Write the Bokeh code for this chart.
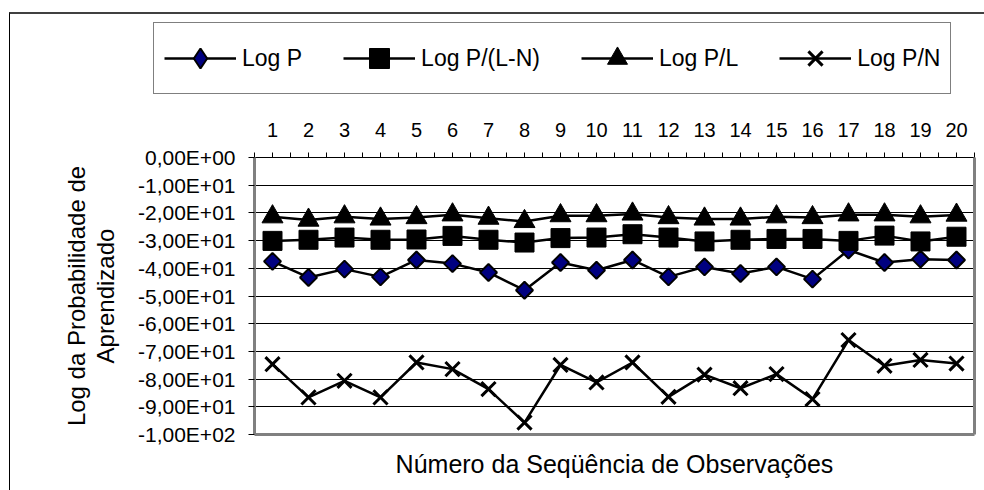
import numpy as np
from bokeh.plotting import figure
from bokeh.layouts import column
from bokeh.models import Range1d, FixedTicker, LinearAxis, Legend, LegendItem
from bokeh.embed import file_html
from bokeh.resources import INLINE

# ---- data ----
observacoes = list(range(1, 21))
x_tick_labels = [str(i) for i in observacoes]
log_p = [-37.5, -43.3, -40.3, -43.1, -37.0, -38.3, -41.5, -47.9, -37.9, -40.7,
         -37.0, -43.1, -39.5, -41.9, -39.5, -43.9, -33.4, -37.9, -36.7, -37.0]
log_p_lmn = [-30.1, -29.7, -28.9, -29.7, -29.6, -28.3, -29.7, -30.7, -29.1, -28.9,
             -27.7, -28.9, -30.3, -29.7, -29.4, -29.4, -30.1, -28.2, -30.3, -28.6]
log_p_l = [-21.4, -22.6, -21.4, -22.2, -21.7, -20.7, -21.9, -23.1, -21.0, -21.0,
           -20.4, -21.7, -22.2, -22.2, -21.4, -21.7, -20.7, -20.7, -21.4, -20.8]
log_p_n = [-74.6, -86.6, -80.6, -86.6, -74.0, -76.4, -83.6, -95.7, -74.9, -81.2,
           -74.0, -86.4, -78.4, -83.3, -78.2, -87.2, -65.9, -75.2, -73.1, -74.4]
y_ticks = [0, -10, -20, -30, -40, -50, -60, -70, -80, -90, -100]
y_tick_labels = ["0,00E+00", "-1,00E+01", "-2,00E+01", "-3,00E+01", "-4,00E+01",
                 "-5,00E+01", "-6,00E+01", "-7,00E+01", "-8,00E+01", "-9,00E+01",
                 "-1,00E+02"]
series_names = ["Log P", "Log P/(L-N)", "Log P/L", "Log P/N"]
series_values = [log_p, log_p_lmn, log_p_l, log_p_n]

FONT = "Liberation Sans"
LW = 2.5
PLOT_MARKERS = [dict(marker="square", angle=np.pi / 4, size=12, fill_color="#000080",
                     line_color="black", line_width=2),
                dict(marker="square", size=19, fill_color="black", line_color="black", line_width=1),
                dict(marker="triangle", size=21, fill_color="black", line_color="black", line_width=1),
                dict(marker="x", size=20, line_color="black", line_width=3)]
LEGEND_MARKERS = [dict(marker="diamond", fill_color="#000080", line_color="black", line_width=2),
                  dict(marker="square", fill_color="black", line_color="black", line_width=1),
                  dict(marker="triangle", fill_color="black", line_color="black", line_width=1),
                  dict(marker="x", line_color="black", line_width=3)]


def add_series(fig, markers):
    pairs = []
    for vals, mk in zip(series_values, markers):
        ln = fig.line(observacoes, vals, line_color="black", line_width=LW)
        sc = fig.scatter(observacoes, vals, **mk)
        pairs.append((ln, sc))
    return pairs


# ---------- legend strip (top) ----------
top = figure(frame_width=974, frame_height=90, min_border=0,
             x_range=Range1d(0.5, 20.5), y_range=Range1d(0, 1),
             x_axis_location=None, y_axis_location=None,
             output_backend="svg", toolbar_location=None)
top.margin = (12, 0, 0, 9)
top.styles = {"border-top": "2px solid #404040", "border-left": "1px solid #000000"}
top.outline_line_color = None
top.grid.visible = False
top.border_fill_color = "white"
top.background_fill_color = "white"
pairs_top = add_series(top, LEGEND_MARKERS)   # data lie outside this strip's view; legend glyphs only

legend = Legend(items=[LegendItem(label=n, renderers=list(pr))
                       for n, pr in zip(series_names, pairs_top)],
                orientation="horizontal", location=(143, 12))
legend.border_line_color = "black"
legend.border_line_width = 1
legend.background_fill_color = "white"
legend.background_fill_alpha = 1
legend.label_text_font = FONT
legend.label_text_font_size = "23px"
legend.label_text_color = "black"
legend.glyph_width = 72
legend.glyph_height = 50
legend.label_standoff = 6
legend.spacing = 41
legend.padding = 10
legend.margin = 0
top.add_layout(legend, "center")

# ---------- main chart ----------
p = figure(frame_width=719, frame_height=277,
           x_range=Range1d(0.5, 20.5), y_range=Range1d(-100, 0),
           x_axis_location="above",
           min_border_left=244, min_border_right=11,
           min_border_top=53, min_border_bottom=56,
           output_backend="svg", toolbar_location=None)
p.margin = (0, 0, 0, 9)
p.styles = {"border-left": "1px solid #000000"}
p.outline_line_color = None
p.background_fill_color = "white"
p.border_fill_color = "white"

# top category axis
xa = p.xaxis[0]
xa.ticker = FixedTicker(ticks=observacoes, minor_ticks=list(np.arange(0.5, 21.0, 1.0)))
xa.major_label_overrides = {i: s for i, s in zip(observacoes, x_tick_labels)}
xa.major_label_text_font = FONT
xa.major_label_text_font_size = "20px"
xa.major_label_text_color = "black"
xa.major_label_standoff = 16
xa.major_tick_out = 5
xa.major_tick_in = 0
xa.minor_tick_out = 5
xa.minor_tick_in = 0
xa.major_tick_line_color = "black"
xa.minor_tick_line_color = "black"
xa.axis_line_color = "black"
xa.axis_line_width = 1

# left value axis
ya = p.yaxis[0]
ya.ticker = FixedTicker(ticks=y_ticks)
ya.major_label_overrides = {t: s for t, s in zip(y_ticks, y_tick_labels)}
ya.major_label_text_font = FONT
ya.major_label_text_font_size = "21px"
ya.major_label_text_color = "black"
ya.major_label_standoff = 13
ya.major_tick_out = 6
ya.major_tick_in = 0
ya.minor_tick_line_color = None
ya.major_tick_line_color = "black"
ya.axis_line_color = "#808080"
ya.axis_line_width = 3
ya.axis_label = "Log da Probabilidade de\nAprendizado"
ya.axis_label_text_font = FONT
ya.axis_label_text_font_size = "24px"
ya.axis_label_text_line_height = 1.08
ya.axis_label_text_font_style = "normal"
ya.axis_label_text_color = "black"
ya.axis_label_standoff = 16

# bottom: title only
bx = LinearAxis(ticker=FixedTicker(ticks=[]), axis_label="Número da Seqüência de Observações")
bx.axis_line_color = "#808080"
bx.axis_line_width = 3
bx.major_tick_line_color = None
bx.minor_tick_line_color = None
bx.axis_label_text_font = FONT
bx.axis_label_text_font_size = "25px"
bx.axis_label_text_font_style = "normal"
bx.axis_label_text_color = "black"
bx.axis_label_standoff = 15
p.add_layout(bx, "below")

# right border
rx = LinearAxis(ticker=FixedTicker(ticks=[]))
rx.axis_line_color = "#808080"
rx.axis_line_width = 3
rx.major_tick_line_color = None
rx.minor_tick_line_color = None
p.add_layout(rx, "right")

p.xgrid.visible = False
p.ygrid.ticker = FixedTicker(ticks=y_ticks[1:-1])
p.ygrid.grid_line_color = "black"
p.ygrid.grid_line_width = 1

add_series(p, PLOT_MARKERS)

layout = column(top, p, spacing=0)
open("out.html", "w").write(file_html(layout, INLINE))
